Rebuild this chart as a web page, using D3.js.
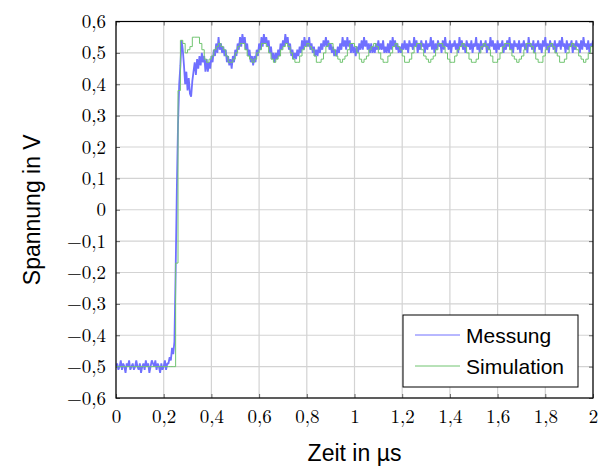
<!DOCTYPE html>
<html>
<head>
<meta charset="utf-8">
<script src="https://cdn.jsdelivr.net/npm/d3@7"></script>
<style>
  html, body { margin: 0; padding: 0; background: #fff; }
  svg { display: block; }
</style>
</head>
<body>
<svg id="chart" width="605" height="470"></svg>
<script>
// Sampling intervals in µs
const messungDt = 0.005;
const simulationDt = 0.01;

// Measured voltage (V), one sample every messungDt from t = 0
const messung = [
  -0.50,-0.49,-0.51,-0.50,-0.48,-0.51,-0.49,-0.50,-0.52,-0.49,-0.50,-0.48,-0.51,-0.50,-0.49,-0.51,-0.50,-0.48,-0.50,-0.51,
  -0.49,-0.52,-0.50,-0.49,-0.51,-0.48,-0.50,-0.49,-0.52,-0.50,-0.48,-0.49,-0.50,-0.48,-0.51,-0.49,-0.50,-0.52,-0.49,-0.51,
  -0.50,-0.48,-0.51,-0.49,-0.49,-0.47,-0.48,-0.44,-0.46,-0.42,-0.20,0.06,0.27,0.40,0.46,0.54,0.51,0.46,0.40,0.44,
  0.38,0.42,0.37,0.36,0.41,0.44,0.47,0.43,0.48,0.45,0.49,0.46,0.50,0.47,0.49,0.44,0.48,0.44,0.47,0.45,
  0.49,0.47,0.51,0.49,0.53,0.50,0.55,0.51,0.53,0.50,0.52,0.49,0.51,0.47,0.49,0.46,0.48,0.45,0.49,0.47,
  0.51,0.49,0.53,0.51,0.55,0.52,0.56,0.53,0.55,0.51,0.53,0.49,0.51,0.47,0.49,0.46,0.49,0.47,0.51,0.49,
  0.53,0.51,0.55,0.52,0.56,0.53,0.55,0.52,0.54,0.50,0.52,0.48,0.50,0.47,0.50,0.48,0.51,0.49,0.53,0.51,
  0.54,0.52,0.56,0.53,0.55,0.51,0.53,0.49,0.51,0.48,0.50,0.48,0.51,0.49,0.52,0.50,0.54,0.51,0.55,0.52,
  0.54,0.52,0.55,0.51,0.53,0.50,0.52,0.49,0.51,0.49,0.52,0.50,0.53,0.51,0.54,0.52,0.55,0.52,0.54,0.51,
  0.53,0.50,0.52,0.49,0.51,0.49,0.52,0.50,0.53,0.51,0.55,0.52,0.54,0.51,0.55,0.52,0.54,0.50,0.53,0.50,
  0.52,0.49,0.52,0.50,0.53,0.51,0.54,0.51,0.55,0.52,0.54,0.51,0.53,0.50,0.53,0.50,0.52,0.50,0.53,0.51,
  0.54,0.51,0.53,0.51,0.54,0.50,0.52,0.50,0.53,0.50,0.54,0.51,0.55,0.52,0.54,0.51,0.53,0.50,0.52,0.50,
  0.53,0.51,0.54,0.51,0.53,0.50,0.54,0.52,0.53,0.51,0.55,0.52,0.54,0.50,0.53,0.51,0.54,0.52,0.53,0.50,
  0.54,0.51,0.53,0.52,0.55,0.51,0.54,0.50,0.53,0.51,0.54,0.52,0.53,0.50,0.54,0.51,0.55,0.52,0.53,0.51,
  0.54,0.50,0.53,0.52,0.54,0.51,0.53,0.50,0.55,0.52,0.54,0.51,0.53,0.50,0.54,0.52,0.53,0.51,0.54,0.50,
  0.53,0.52,0.55,0.51,0.53,0.50,0.54,0.51,0.53,0.52,0.54,0.50,0.53,0.51,0.55,0.52,0.54,0.51,0.53,0.50,
  0.54,0.51,0.53,0.52,0.54,0.50,0.53,0.51,0.54,0.52,0.55,0.51,0.53,0.50,0.54,0.52,0.53,0.51,0.54,0.50,
  0.53,0.52,0.54,0.51,0.53,0.50,0.55,0.52,0.53,0.51,0.54,0.50,0.53,0.52,0.54,0.51,0.53,0.50,0.54,0.52,
  0.55,0.51,0.53,0.50,0.54,0.52,0.53,0.51,0.54,0.50,0.53,0.52,0.54,0.51,0.55,0.52,0.53,0.50,0.54,0.51,
  0.53,0.52,0.54,0.50,0.53,0.51,0.54,0.52,0.53,0.50,0.54,0.51,0.55,0.52,0.53,0.51,0.54,0.50,0.53,0.52,
  0.54
];

// Simulated voltage (V), one sample every simulationDt from t = 0, drawn as a staircase
const simulation = [
  -0.50,-0.50,-0.50,-0.50,-0.50,-0.50,-0.50,-0.50,-0.50,-0.50,-0.50,-0.50,-0.50,-0.50,-0.50,-0.50,-0.50,-0.50,-0.50,-0.50,
  -0.50,-0.50,-0.50,-0.50,-0.50,-0.17,0.38,0.54,0.53,0.50,0.51,0.52,0.55,0.55,0.55,0.53,0.51,0.48,0.47,0.48,
  0.49,0.51,0.52,0.53,0.52,0.51,0.49,0.47,0.47,0.48,0.50,0.52,0.53,0.53,0.51,0.49,0.48,0.47,0.48,0.50,
  0.51,0.53,0.53,0.52,0.50,0.48,0.47,0.48,0.49,0.51,0.52,0.53,0.52,0.50,0.48,0.47,0.47,0.49,0.51,0.52,
  0.53,0.52,0.51,0.49,0.47,0.47,0.48,0.50,0.52,0.53,0.53,0.51,0.49,0.48,0.47,0.48,0.49,0.51,0.53,0.53,
  0.52,0.50,0.48,0.47,0.48,0.49,0.51,0.52,0.53,0.52,0.50,0.48,0.47,0.47,0.49,0.50,0.52,0.53,0.52,0.51,
  0.49,0.47,0.47,0.48,0.50,0.52,0.53,0.53,0.51,0.49,0.48,0.47,0.48,0.49,0.51,0.53,0.53,0.52,0.50,0.48,
  0.47,0.47,0.49,0.51,0.52,0.53,0.52,0.50,0.48,0.47,0.47,0.48,0.50,0.52,0.53,0.52,0.51,0.49,0.47,0.47,
  0.48,0.50,0.52,0.53,0.53,0.51,0.49,0.48,0.47,0.48,0.49,0.51,0.53,0.53,0.52,0.50,0.48,0.47,0.47,0.49,
  0.51,0.52,0.53,0.52,0.50,0.49,0.47,0.47,0.48,0.50,0.52,0.53,0.52,0.51,0.49,0.48,0.47,0.48,0.50,0.52,
  0.53
];

const xTicks = [0, 0.2, 0.4, 0.6, 0.8, 1, 1.2, 1.4, 1.6, 1.8, 2];
const yTicks = [-0.6, -0.5, -0.4, -0.3, -0.2, -0.1, 0, 0.1, 0.2, 0.3, 0.4, 0.5, 0.6];
const seriesNames = ["Messung", "Simulation"];
const seriesColors = ["#7070ff", "#70c470"];

const margin = { left: 116, right: 12, top: 21.5, bottom: 72 };
const W = 605, H = 470;
const svg = d3.select("#chart");

const x = d3.scaleLinear().domain([0, 2]).range([margin.left, W - margin.right]);
const y = d3.scaleLinear().domain([-0.6, 0.6]).range([H - margin.bottom, margin.top]);

// German decimal comma and true minus sign
const fmt = v => {
  const s = d3.format("")(+v.toFixed(1)).replace(".", ",");
  return s.replace("-", "\u2212");
};

const serif = "'Latin Modern Roman','CMU Serif','Liberation Serif','DejaVu Serif',serif";
const sans = "'Liberation Sans','Helvetica','Arial',sans-serif";

// Grid
const grid = svg.append("g");
grid.selectAll(".gx").data(xTicks).join("line")
  .attr("x1", d => x(d)).attr("x2", d => x(d))
  .attr("y1", y(-0.6)).attr("y2", y(0.6))
  .attr("stroke", "#d3d3d3").attr("stroke-width", 1.2);
grid.selectAll(".gy").data(yTicks).join("line")
  .attr("x1", x(0)).attr("x2", x(2))
  .attr("y1", d => y(d)).attr("y2", d => y(d))
  .attr("stroke", "#d3d3d3").attr("stroke-width", 1.2);

// Axes with inward ticks on all four sides
const tickLen = 4;
const axB = svg.append("g").attr("transform", `translate(0,${y(-0.6)})`)
  .call(d3.axisBottom(x).tickValues(xTicks).tickSize(-tickLen).tickPadding(12).tickFormat(fmt));
const axT = svg.append("g").attr("transform", `translate(0,${y(0.6)})`)
  .call(d3.axisTop(x).tickValues(xTicks).tickSize(-tickLen).tickFormat(""));
const axL = svg.append("g").attr("transform", `translate(${x(0)},0)`)
  .call(d3.axisLeft(y).tickValues(yTicks).tickSize(-tickLen).tickPadding(10).tickFormat(fmt));
const axR = svg.append("g").attr("transform", `translate(${x(2)},0)`)
  .call(d3.axisRight(y).tickValues(yTicks).tickSize(-tickLen).tickFormat(""));
[axB, axT, axL, axR].forEach(a => {
  a.select(".domain").remove();
  a.selectAll(".tick line").attr("stroke", "#666").attr("stroke-width", 1);
  a.selectAll("text").attr("font-family", serif).attr("font-size", 19).attr("fill", "#000");
});

// Data lines, clipped to the plot area
svg.append("clipPath").attr("id", "plotclip").append("rect")
  .attr("x", x(0)).attr("y", y(0.6)).attr("width", x(2) - x(0)).attr("height", y(-0.6) - y(0.6));
const plot = svg.append("g").attr("clip-path", "url(#plotclip)");

const lineM = d3.line().x((d, i) => x(i * messungDt)).y(d => y(d));
const lineS = d3.line().x((d, i) => x(i * simulationDt)).y(d => y(d)).curve(d3.curveStepAfter);

// The measured trace is dense, so a slightly wider stroke renders it as a band
plot.append("path").datum(messung).attr("d", lineM)
  .attr("fill", "none").attr("stroke", seriesColors[0]).attr("stroke-width", 1.8)
  .attr("stroke-linejoin", "bevel");
plot.append("path").datum(simulation).attr("d", lineS)
  .attr("fill", "none").attr("stroke", seriesColors[1]).attr("stroke-width", 1);

// Plot frame
svg.append("rect").attr("x", x(0)).attr("y", y(0.6))
  .attr("width", x(2) - x(0)).attr("height", y(-0.6) - y(0.6))
  .attr("fill", "none").attr("stroke", "#000").attr("stroke-width", 1.2);

// Axis titles
svg.append("text").attr("x", (x(0) + x(2)) / 2).attr("y", 461)
  .attr("text-anchor", "middle").attr("font-family", sans).attr("font-size", 23)
  .text("Zeit in µs");
svg.append("text").attr("transform", `translate(40,${y(0)}) rotate(-90)`)
  .attr("text-anchor", "middle").attr("font-family", sans).attr("font-size", 23)
  .text("Spannung in V");

// Legend
const lg = svg.append("g").attr("transform", "translate(403,315)");
lg.append("rect").attr("width", 175).attr("height", 72)
  .attr("fill", "#fff").attr("stroke", "#000").attr("stroke-width", 1);
seriesNames.forEach((name, i) => {
  const cy = 20 + i * 31;
  lg.append("line").attr("x1", 12).attr("x2", 57).attr("y1", cy).attr("y2", cy)
    .attr("stroke", seriesColors[i]).attr("stroke-width", 1);
  lg.append("text").attr("x", 63).attr("y", cy + 8)
    .attr("font-family", sans).attr("font-size", 21).text(name);
});
</script>
</body>
</html>
